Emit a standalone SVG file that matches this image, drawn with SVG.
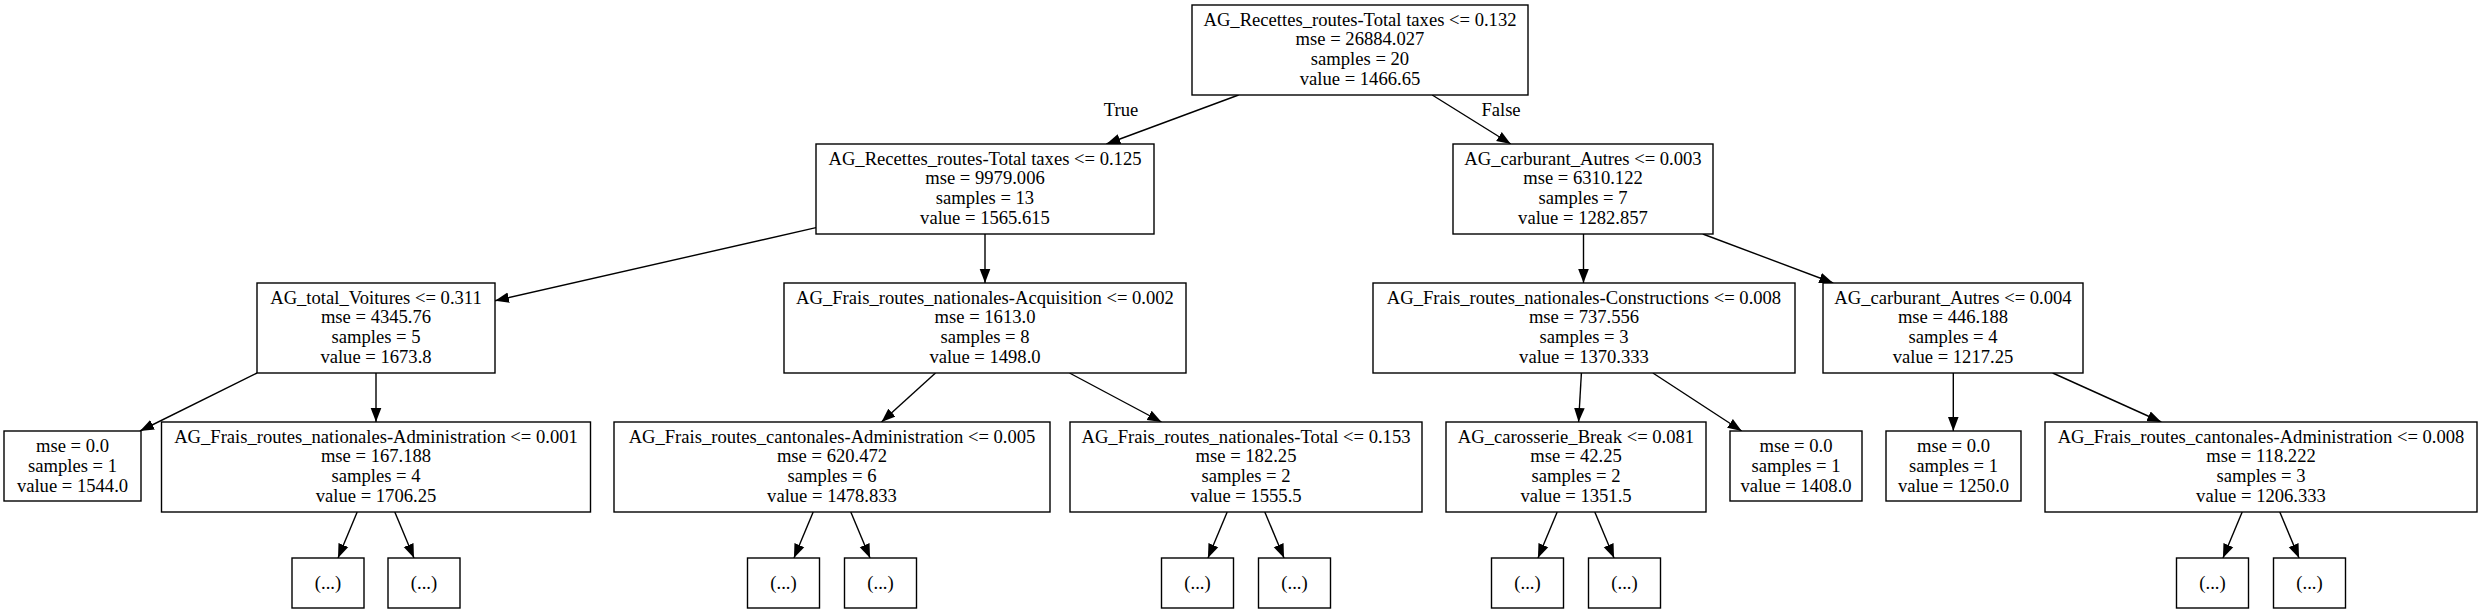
<svg xmlns="http://www.w3.org/2000/svg" width="2481" height="613" viewBox="0 0 2481 613">
<defs>
<style>
.box{fill:#fff;stroke:#000;stroke-width:1.4}
.t{font-family:"Liberation Serif","Times New Roman",serif;font-size:18.6px;fill:#000;text-anchor:middle}
.e{stroke:#000;stroke-width:1.4;fill:none;marker-end:url(#arr)}
</style>
<marker id="arr" markerUnits="userSpaceOnUse" markerWidth="16" markerHeight="12" refX="14" refY="0" viewBox="0 -6 16 12" orient="auto">
<path d="M0,-5.3 L14,0 L0,5.3 z" fill="#000"/>
</marker>
</defs>
<rect width="2481" height="613" fill="#fff"/>
<g id="edges">
<line class="e" x1="1238.6" y1="95" x2="1106.4" y2="144"/>
<line class="e" x1="1432.2" y1="95" x2="1510.8" y2="144"/>
<line class="e" x1="816" y1="227.6" x2="495" y2="300.8"/>
<line class="e" x1="985" y1="234" x2="985" y2="283"/>
<line class="e" x1="1583.5" y1="234" x2="1583.5" y2="283"/>
<line class="e" x1="1702.8" y1="234" x2="1833.2" y2="283"/>
<line class="e" x1="257" y1="373" x2="140" y2="431"/>
<line class="e" x1="376" y1="373" x2="376" y2="422"/>
<line class="e" x1="935.5" y1="373" x2="881.5" y2="422"/>
<line class="e" x1="1069.5" y1="373" x2="1161.5" y2="422"/>
<line class="e" x1="1581.4" y1="373" x2="1578.6" y2="422"/>
<line class="e" x1="1652.9" y1="373" x2="1741.7" y2="431"/>
<line class="e" x1="1953.3" y1="373" x2="1953.3" y2="431"/>
<line class="e" x1="2052.7" y1="373" x2="2161.3" y2="422"/>
<line class="e" x1="357.2" y1="512" x2="338" y2="558"/>
<line class="e" x1="394.8" y1="512" x2="414" y2="558"/>
<line class="e" x1="813.2" y1="512" x2="793.95" y2="558"/>
<line class="e" x1="850.8" y1="512" x2="870.05" y2="558"/>
<line class="e" x1="1227.2" y1="512" x2="1207.95" y2="558"/>
<line class="e" x1="1264.8" y1="512" x2="1284.05" y2="558"/>
<line class="e" x1="1557.2" y1="512" x2="1537.95" y2="558"/>
<line class="e" x1="1594.8" y1="512" x2="1614.05" y2="558"/>
<line class="e" x1="2242.2" y1="512" x2="2222.95" y2="558"/>
<line class="e" x1="2279.8" y1="512" x2="2299.05" y2="558"/>
<text class="t" x="1121" y="116">True</text>
<text class="t" x="1501" y="116">False</text>
</g>
<g id="n0"><rect class="box" x="1192" y="5" width="336" height="90"/>
<text class="t" x="1360" y="25.7">AG_Recettes_routes-Total taxes &lt;= 0.132<tspan x="1360" dy="19.7">mse = 26884.027</tspan><tspan x="1360" dy="19.7">samples = 20</tspan><tspan x="1360" dy="19.7">value = 1466.65</tspan></text></g>
<g id="n1"><rect class="box" x="816" y="144" width="338" height="90"/>
<text class="t" x="985" y="164.7">AG_Recettes_routes-Total taxes &lt;= 0.125<tspan x="985" dy="19.7">mse = 9979.006</tspan><tspan x="985" dy="19.7">samples = 13</tspan><tspan x="985" dy="19.7">value = 1565.615</tspan></text></g>
<g id="n2"><rect class="box" x="1453" y="144" width="260" height="90"/>
<text class="t" x="1583" y="164.7">AG_carburant_Autres &lt;= 0.003<tspan x="1583" dy="19.7">mse = 6310.122</tspan><tspan x="1583" dy="19.7">samples = 7</tspan><tspan x="1583" dy="19.7">value = 1282.857</tspan></text></g>
<g id="n3"><rect class="box" x="257" y="283" width="238" height="90"/>
<text class="t" x="376" y="303.7">AG_total_Voitures &lt;= 0.311<tspan x="376" dy="19.7">mse = 4345.76</tspan><tspan x="376" dy="19.7">samples = 5</tspan><tspan x="376" dy="19.7">value = 1673.8</tspan></text></g>
<g id="n4"><rect class="box" x="784" y="283" width="402" height="90"/>
<text class="t" x="985" y="303.7">AG_Frais_routes_nationales-Acquisition &lt;= 0.002<tspan x="985" dy="19.7">mse = 1613.0</tspan><tspan x="985" dy="19.7">samples = 8</tspan><tspan x="985" dy="19.7">value = 1498.0</tspan></text></g>
<g id="n5"><rect class="box" x="1373" y="283" width="422" height="90"/>
<text class="t" x="1584" y="303.7">AG_Frais_routes_nationales-Constructions &lt;= 0.008<tspan x="1584" dy="19.7">mse = 737.556</tspan><tspan x="1584" dy="19.7">samples = 3</tspan><tspan x="1584" dy="19.7">value = 1370.333</tspan></text></g>
<g id="n6"><rect class="box" x="1823" y="283" width="260" height="90"/>
<text class="t" x="1953" y="303.7">AG_carburant_Autres &lt;= 0.004<tspan x="1953" dy="19.7">mse = 446.188</tspan><tspan x="1953" dy="19.7">samples = 4</tspan><tspan x="1953" dy="19.7">value = 1217.25</tspan></text></g>
<g id="n7"><rect class="box" x="4" y="431" width="137" height="70"/>
<text class="t" x="72.5" y="452.1">mse = 0.0<tspan x="72.5" dy="19.7">samples = 1</tspan><tspan x="72.5" dy="19.7">value = 1544.0</tspan></text></g>
<g id="n8"><rect class="box" x="161.5" y="422" width="429" height="90"/>
<text class="t" x="376" y="442.7">AG_Frais_routes_nationales-Administration &lt;= 0.001<tspan x="376" dy="19.7">mse = 167.188</tspan><tspan x="376" dy="19.7">samples = 4</tspan><tspan x="376" dy="19.7">value = 1706.25</tspan></text></g>
<g id="n9"><rect class="box" x="614" y="422" width="436" height="90"/>
<text class="t" x="832" y="442.7">AG_Frais_routes_cantonales-Administration &lt;= 0.005<tspan x="832" dy="19.7">mse = 620.472</tspan><tspan x="832" dy="19.7">samples = 6</tspan><tspan x="832" dy="19.7">value = 1478.833</tspan></text></g>
<g id="n10"><rect class="box" x="1070" y="422" width="352" height="90"/>
<text class="t" x="1246" y="442.7">AG_Frais_routes_nationales-Total &lt;= 0.153<tspan x="1246" dy="19.7">mse = 182.25</tspan><tspan x="1246" dy="19.7">samples = 2</tspan><tspan x="1246" dy="19.7">value = 1555.5</tspan></text></g>
<g id="n11"><rect class="box" x="1446" y="422" width="260" height="90"/>
<text class="t" x="1576" y="442.7">AG_carosserie_Break &lt;= 0.081<tspan x="1576" dy="19.7">mse = 42.25</tspan><tspan x="1576" dy="19.7">samples = 2</tspan><tspan x="1576" dy="19.7">value = 1351.5</tspan></text></g>
<g id="n12"><rect class="box" x="1730" y="431" width="132" height="70"/>
<text class="t" x="1796" y="452.1">mse = 0.0<tspan x="1796" dy="19.7">samples = 1</tspan><tspan x="1796" dy="19.7">value = 1408.0</tspan></text></g>
<g id="n13"><rect class="box" x="1886" y="431" width="135" height="70"/>
<text class="t" x="1953.5" y="452.1">mse = 0.0<tspan x="1953.5" dy="19.7">samples = 1</tspan><tspan x="1953.5" dy="19.7">value = 1250.0</tspan></text></g>
<g id="n14"><rect class="box" x="2045" y="422" width="432" height="90"/>
<text class="t" x="2261" y="442.7">AG_Frais_routes_cantonales-Administration &lt;= 0.008<tspan x="2261" dy="19.7">mse = 118.222</tspan><tspan x="2261" dy="19.7">samples = 3</tspan><tspan x="2261" dy="19.7">value = 1206.333</tspan></text></g>
<g id="n15"><rect class="box" x="292" y="558" width="72" height="50"/><text class="t" x="328" y="588.8">(...)</text></g>
<g id="n16"><rect class="box" x="388" y="558" width="72" height="50"/><text class="t" x="424" y="588.8">(...)</text></g>
<g id="n17"><rect class="box" x="747.5" y="558" width="72" height="50"/><text class="t" x="783.5" y="588.8">(...)</text></g>
<g id="n18"><rect class="box" x="844.5" y="558" width="72" height="50"/><text class="t" x="880.5" y="588.8">(...)</text></g>
<g id="n19"><rect class="box" x="1161.5" y="558" width="72" height="50"/><text class="t" x="1197.5" y="588.8">(...)</text></g>
<g id="n20"><rect class="box" x="1258.5" y="558" width="72" height="50"/><text class="t" x="1294.5" y="588.8">(...)</text></g>
<g id="n21"><rect class="box" x="1491.5" y="558" width="72" height="50"/><text class="t" x="1527.5" y="588.8">(...)</text></g>
<g id="n22"><rect class="box" x="1588.5" y="558" width="72" height="50"/><text class="t" x="1624.5" y="588.8">(...)</text></g>
<g id="n23"><rect class="box" x="2176.5" y="558" width="72" height="50"/><text class="t" x="2212.5" y="588.8">(...)</text></g>
<g id="n24"><rect class="box" x="2273.5" y="558" width="72" height="50"/><text class="t" x="2309.5" y="588.8">(...)</text></g>
</svg>
